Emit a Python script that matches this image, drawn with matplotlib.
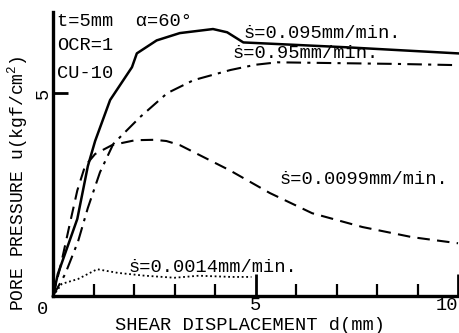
import matplotlib
matplotlib.use("Agg")
import matplotlib.pyplot as plt
from matplotlib.ticker import FixedLocator

plt.rcParams['font.family'] = ['Liberation Mono', 'DejaVu Sans Mono']
plt.rcParams['mathtext.fontset'] = 'custom'
plt.rcParams['mathtext.rm'] = 'Liberation Mono'

# Data
d_fast = [0, 0.12, 0.6, 0.86, 1.04, 1.41, 1.95, 2.07, 2.56, 3.13, 3.95, 4.3, 4.7, 7.25, 10]
u_fast = [0, 0.54, 1.9, 3.2, 3.82, 4.83, 5.64, 5.98, 6.3, 6.48, 6.58, 6.5, 6.25, 6.13, 5.98]

d_vfast = [0, 0.3, 0.62, 0.86, 1.16, 1.49, 2.15, 2.82, 3.47, 4.38, 5.0, 5.54, 7.0, 8.5, 10]
u_vfast = [0, 0.54, 1.35, 2.17, 3.05, 3.75, 4.41, 5.0, 5.32, 5.57, 5.7, 5.76, 5.74, 5.72, 5.69]

d_mid = [0, 0.2, 0.42, 0.6, 0.79, 1.04, 1.46, 2.03, 2.5, 2.8, 3.13, 4.36, 5.35, 6.4, 7.64, 8.87, 10]
u_mid = [0, 0.8, 1.8, 2.6, 3.2, 3.5, 3.72, 3.84, 3.85, 3.82, 3.72, 3.1, 2.54, 2.04, 1.7, 1.45, 1.3]

d_slow = [0, 0.22, 0.62, 1.09, 1.6, 2.27, 3.0, 3.6, 4.4, 4.9]
u_slow = [0, 0.3, 0.42, 0.66, 0.57, 0.5, 0.45, 0.5, 0.47, 0.47]

x_major = [5, 10]
x_minor = [1, 2, 3, 4, 6, 7, 8, 9]
y_major = [5]

fig = plt.figure(figsize=(4.6, 3.33), dpi=100)
ax = fig.add_axes([53/460, 37/333, 405/460, 284/333])
ax.set_xlim(0, 10)
ax.set_ylim(0, 7)

ax.plot(d_fast, u_fast, color='black', lw=1.8, solid_joinstyle='round', clip_on=False)
ax.plot(d_vfast, u_vfast, color='black', lw=1.5, dashes=(7, 3, 1.5, 3), clip_on=False)
ax.plot(d_mid, u_mid, color='black', lw=1.5, dashes=(6, 3.5), clip_on=False)
ax.plot(d_slow, u_slow, color='black', lw=1.3, dashes=(1, 1.5), clip_on=False)

for s in ['top', 'right']:
    ax.spines[s].set_visible(False)
for s in ['left', 'bottom']:
    ax.spines[s].set_linewidth(2.4)

fs = 13.5
ax.xaxis.set_major_locator(FixedLocator(x_major))
ax.xaxis.set_minor_locator(FixedLocator(x_minor))
ax.set_xticklabels([str(v) for v in x_major])
ax.tick_params(axis='x', which='major', direction='in', length=16, width=2, labelsize=fs, pad=1)
ax.tick_params(axis='x', which='minor', direction='in', length=9, width=1.6)
for lbl in ax.get_xticklabels():
    if lbl.get_text() == '10':
        lbl.set_ha('right')
ax.set_yticks(y_major)
ax.set_yticklabels([str(v) for v in y_major], rotation=90, va='center')
ax.tick_params(axis='y', which='major', direction='in', length=11, width=2, labelsize=fs, pad=1)

ax.text(-0.27, -0.33, '0', fontsize=fs, ha='center', va='center')
fig.text(250/460, 1 - 326/333, 'SHEAR DISPLACEMENT d(mm)', fontsize=fs, ha='center', va='center')
fig.text(18/460, 1 - 183/333, 'PORE PRESSURE u(kgf/cm$^{2}$)', fontsize=13, ha='center', va='center', rotation=90)

def put(x, y, s):
    fig.text(x/460, 1 - y/333, s, fontsize=fs, ha='left', va='center')

put(57, 22, 't=5mm  α=60°')
put(57, 46, 'OCR=1')
put(57, 74, 'CU-10')
put(244, 33, 'ṡ=0.095mm/min.')
put(233, 53, 'ṡ=0.95mm/min.')
put(280, 180, 'ṡ=0.0099mm/min.')
put(129, 267, 'ṡ=0.0014mm/min.')

fig.savefig('out.png', dpi=100)
